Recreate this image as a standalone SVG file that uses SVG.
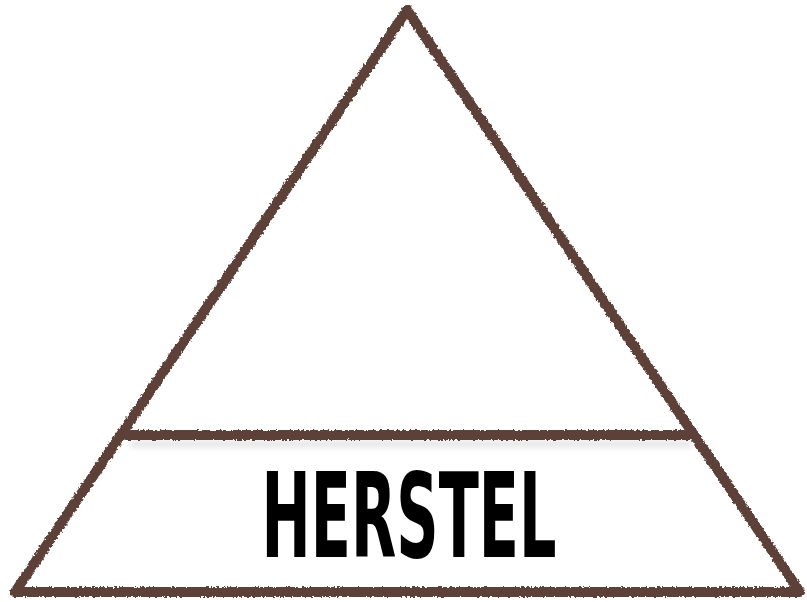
<svg xmlns="http://www.w3.org/2000/svg" width="807" height="602" viewBox="0 0 807 602">
  <defs>
    <filter id="rough" filterUnits="userSpaceOnUse" x="0" y="0" width="807" height="602">
      <feTurbulence type="fractalNoise" baseFrequency="0.4" numOctaves="2" seed="3" result="n"/>
      <feDisplacementMap in="SourceGraphic" in2="n" scale="4" xChannelSelector="R" yChannelSelector="G"/>
    </filter>
    <filter id="shadow" filterUnits="userSpaceOnUse" x="0" y="400" width="807" height="80">
      <feGaussianBlur stdDeviation="3"/>
    </filter>
  </defs>
  <style>
    .chalk { fill: none; stroke: #5d4037; stroke-width: 10; stroke-linejoin: round; stroke-linecap: round; filter: url(#rough); }
    .label { font-family: "DejaVu Sans Condensed", "Liberation Sans", sans-serif; font-weight: bold; fill: #000; }
  </style>
  <rect width="807" height="602" fill="#ffffff"/>
  <g id="pyramid">
    <polygon class="chalk" points="407,10 15,592 800,592"/>
  </g>
  <g id="connectors">
    <line x1="130" y1="444" x2="692" y2="444" stroke="#000" stroke-opacity="0.12" stroke-width="6" filter="url(#shadow)"/>
    <line class="chalk" x1="126" y1="435" x2="694" y2="435"/>
  </g>
  <g id="level-herstel">
    <text class="label" x="409" y="557" text-anchor="middle" font-size="117" textLength="295" lengthAdjust="spacingAndGlyphs">HERSTEL</text>
  </g>
</svg>
